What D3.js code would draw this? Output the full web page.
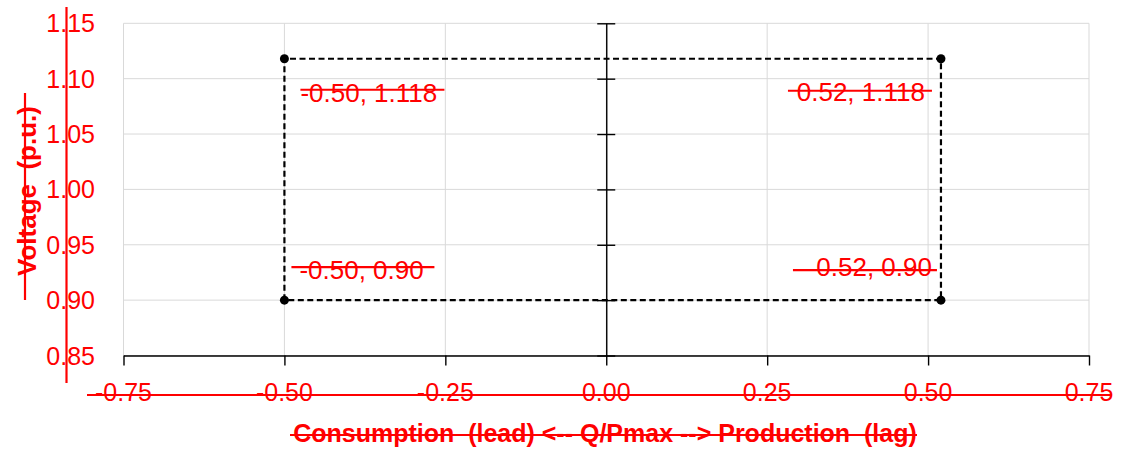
<!DOCTYPE html>
<html>
<head>
<meta charset="utf-8">
<script src="https://cdn.jsdelivr.net/npm/d3@7"></script>
<style>
  html, body { margin: 0; padding: 0; background: #fff; }
  svg { display: block; font-family: "Liberation Sans", Arial, sans-serif; }
</style>
</head>
<body>
<svg id="chart" width="1121" height="452"></svg>
<script>
// ---- data ----
const xTickValues = [-0.75, -0.50, -0.25, 0.00, 0.25, 0.50, 0.75];
const xTickLabels = ["-0.75", "-0.50", "-0.25", "0.00", "0.25", "0.50", "0.75"];
const yTickValues = [0.85, 0.90, 0.95, 1.00, 1.05, 1.10, 1.15];
const yTickLabels = ["0.85", "0.90", "0.95", "1.00", "1.05", "1.10", "1.15"];
const qValues = [-0.50, -0.50, 0.52, 0.52];          // Q/Pmax
const vValues = [0.90, 1.118, 1.118, 0.90];          // Voltage (p.u.)
const pointLabels = ["-0.50, 0.90", "-0.50, 1.118", "0.52, 1.118", "0.52, 0.90"];
const xTitle = "Consumption  (lead) <-- Q/Pmax --> Production  (lag)";
const yTitle = "Voltage  (p.u.)";

// ---- layout ----
const svg = d3.select("#chart");
const red = "#ff0000";
const plot = { left: 123.5, right: 1089, top: 23.3, bottom: 355.5 };

const x = d3.scaleLinear().domain([-0.75, 0.75]).range([plot.left, plot.right]);
const y = d3.scaleLinear().domain([0.85, 1.15]).range([plot.bottom, plot.top]);

// gridlines
const grid = svg.append("g");
grid.selectAll("line.h").data(yTickValues).join("line")
  .attr("x1", plot.left).attr("x2", plot.right)
  .attr("y1", d => y(d)).attr("y2", d => y(d))
  .attr("stroke", "#d9d9d9").attr("stroke-width", 1);
grid.selectAll("line.v").data(xTickValues).join("line")
  .attr("x1", d => x(d)).attr("x2", d => x(d))
  .attr("y1", plot.top).attr("y2", plot.bottom)
  .attr("stroke", "#d9d9d9").attr("stroke-width", 1);

// x axis (bottom)
const xAxis = svg.append("g")
  .attr("transform", `translate(0,${plot.bottom})`)
  .call(d3.axisBottom(x).tickValues(xTickValues).tickSize(10).tickSizeOuter(0).tickFormat(""));
xAxis.select(".domain").attr("stroke", "#000").attr("stroke-width", 1.4);
xAxis.selectAll(".tick line").attr("stroke", "#000").attr("stroke-width", 1.4);

// y axis crossing at x = 0
const yAxis = svg.append("g")
  .attr("transform", `translate(${x(0)},0)`)
  .call(d3.axisLeft(y).tickValues(yTickValues).tickSize(9).tickSizeOuter(0).tickFormat(""));
yAxis.select(".domain").attr("stroke", "#000").attr("stroke-width", 1.4);
yAxis.selectAll(".tick line").attr("stroke", "#000").attr("stroke-width", 1.4)
  .attr("x1", 9).attr("x2", -9);

// y tick labels (outside plot, left)
svg.append("g").selectAll("text").data(yTickValues).join("text")
  .attr("x", 95).attr("y", d => y(d)).attr("dy", "0.36em")
  .attr("text-anchor", "end").attr("fill", red).attr("font-size", 25)
  .text((d, i) => yTickLabels[i]);
svg.append("line")
  .attr("x1", 66.5).attr("x2", 66.5).attr("y1", 7).attr("y2", 383)
  .attr("stroke", red).attr("stroke-width", 2.2);

// x tick labels
svg.append("g").selectAll("text").data(xTickValues).join("text")
  .attr("x", d => x(d)).attr("y", 401)
  .attr("text-anchor", "middle").attr("fill", red).attr("font-size", 25)
  .text((d, i) => xTickLabels[i]);
svg.append("line")
  .attr("x1", 87).attr("x2", 1112).attr("y1", 395).attr("y2", 395)
  .attr("stroke", red).attr("stroke-width", 2.2);

// axis titles
svg.append("text")
  .attr("x", 605).attr("y", 442)
  .attr("text-anchor", "middle").attr("fill", red)
  .attr("font-size", 25).attr("font-weight", "bold")
  .style("white-space", "pre")
  .text(xTitle);
svg.append("line")
  .attr("x1", 290).attr("x2", 917).attr("y1", 435).attr("y2", 435)
  .attr("stroke", red).attr("stroke-width", 2.2);

svg.append("text")
  .attr("transform", "translate(36,191) rotate(-90)")
  .attr("text-anchor", "middle").attr("fill", red)
  .attr("font-size", 26).attr("font-weight", "bold")
  .style("white-space", "pre")
  .text(yTitle);
svg.append("line")
  .attr("x1", 25).attr("x2", 25).attr("y1", 93).attr("y2", 300)
  .attr("stroke", red).attr("stroke-width", 2.2);

// dashed envelope
const pts = qValues.map((q, i) => [q, vValues[i]]);
const line = d3.line().x(d => x(d[0])).y(d => y(d[1]));
svg.append("path")
  .attr("d", line(pts) + "Z")
  .attr("fill", "none").attr("stroke", "#000")
  .attr("stroke-width", 2.2).attr("stroke-dasharray", "6,3.5");

// markers
svg.append("g").selectAll("circle").data(pts).join("circle")
  .attr("cx", d => x(d[0])).attr("cy", d => y(d[1])).attr("r", 4.5)
  .attr("fill", "#000");

// data labels (offsets relative to each point)
const labelOffsets = [
  { dx: 15, dy: -21, anchor: "start", sx1: 7, sx2: 150, sy: -33 },
  { dx: 16, dy: 43, anchor: "start", sx1: 16, sx2: 160, sy: 31 },
  { dx: -16, dy: 42, anchor: "end", sx1: -153, sx2: -9, sy: 32 },
  { dx: -9, dy: -24, anchor: "end", sx1: -148, sx2: -4, sy: -30 }
];
const lab = svg.append("g");
pts.forEach((d, i) => {
  const px = x(d[0]), py = y(d[1]), o = labelOffsets[i];
  lab.append("text")
    .attr("x", px + o.dx).attr("y", py + o.dy)
    .attr("text-anchor", o.anchor).attr("fill", red).attr("font-size", 26)
    .text(pointLabels[i]);
  lab.append("line")
    .attr("x1", px + o.sx1).attr("x2", px + o.sx2)
    .attr("y1", py + o.sy).attr("y2", py + o.sy)
    .attr("stroke", red).attr("stroke-width", 2.2);
});
</script>
</body>
</html>
